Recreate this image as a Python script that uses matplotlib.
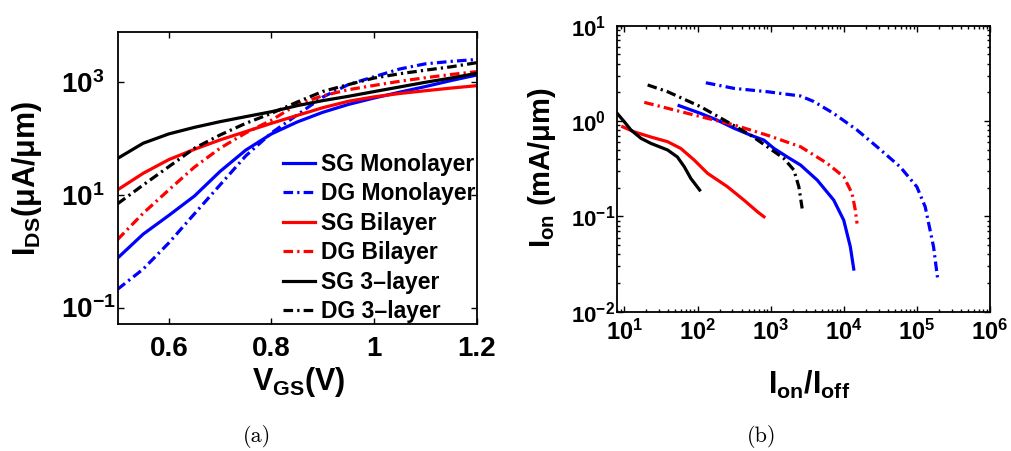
import matplotlib
matplotlib.use('Agg')
import matplotlib.pyplot as plt
from matplotlib.ticker import FixedLocator, LogLocator, NullFormatter

plt.rcParams['font.family'] = ['Liberation Sans', 'DejaVu Sans']
plt.rcParams['font.weight'] = 'bold'
plt.rcParams['mathtext.fontset'] = 'custom'
plt.rcParams['mathtext.rm'] = 'Liberation Sans:bold'
plt.rcParams['mathtext.bf'] = 'Liberation Sans:bold'
plt.rcParams['mathtext.it'] = 'Liberation Sans:bold'
plt.rcParams['mathtext.default'] = 'rm'

# (a) transfer curves
vgs = [0.5, 0.55, 0.6, 0.65, 0.7, 0.75, 0.8, 0.85, 0.9, 0.95, 1.0, 1.05, 1.1, 1.15, 1.2]
sg_mono = [0.75, 2.0, 4.3, 9.5, 26, 62, 120, 195, 290, 400, 520, 660, 830, 1060, 1330]
dg_mono = [0.21, 0.48, 1.4, 4.6, 15, 49, 125, 260, 540, 900, 1240, 1700, 2100, 2320, 2510]
sg_bi = [12.2, 24, 42, 64, 94, 132, 185, 255, 350, 455, 545, 625, 700, 780, 860]
dg_bi = [1.6, 4.7, 12.2, 31, 67, 125, 210, 400, 570, 730, 870, 1030, 1190, 1360, 1525]
sg_3 = [44, 82, 120, 157, 198, 243, 297, 380, 467, 557, 676, 817, 988, 1175, 1426]
dg_3 = [6.9, 14.9, 31.5, 67, 115, 185, 278, 440, 680, 900, 1175, 1400, 1620, 1860, 2200]

# (b) Ion vs Ion/Ioff
r_sg_mono = [56, 111, 187, 316, 533, 811, 1110, 1690, 2570, 4340, 7300, 10000, 12300, 13700]
i_sg_mono = [1.45, 1.2, 1.02, 0.84, 0.71, 0.63, 0.516, 0.42, 0.345, 0.24, 0.148, 0.091, 0.048, 0.028]
r_dg_mono = [130, 316, 900, 2570, 3900, 7300, 15200, 28500, 59000, 100000, 130000, 169000, 192000]
i_dg_mono = [2.52, 2.2, 2.03, 1.83, 1.6, 1.2, 0.805, 0.537, 0.331, 0.204, 0.126, 0.048, 0.0224]
r_sg_bi = [9.5, 13.6, 23, 39, 59, 90, 137, 256, 432, 658, 811]
i_sg_bi = [0.87, 0.77, 0.68, 0.607, 0.516, 0.39, 0.283, 0.205, 0.148, 0.112, 0.099]
r_dg_bi = [18.7, 39, 111, 316, 900, 2570, 5930, 10000, 13000, 14400, 15200]
i_dg_bi = [1.57, 1.36, 1.11, 0.91, 0.71, 0.537, 0.36, 0.26, 0.174, 0.116, 0.084]
r_sg_3 = [8, 10, 12.3, 16.9, 23, 39, 53, 66, 81, 95, 107]
i_sg_3 = [1.2, 0.98, 0.805, 0.658, 0.583, 0.497, 0.42, 0.331, 0.25, 0.213, 0.189]
r_dg_3 = [20.8, 39, 111, 256, 533, 900, 1510, 2080, 2430, 2700]
i_dg_3 = [2.39, 2.03, 1.41, 0.98, 0.71, 0.537, 0.406, 0.306, 0.205, 0.121]

names = ['SG Monolayer', 'DG Monolayer', 'SG Bilayer', 'DG Bilayer', 'SG 3\u2013layer', 'DG 3\u2013layer']
colors = ['#0000ff', '#0000ff', '#ff0000', '#ff0000', '#000000', '#000000']
dd = (0, (3, 1.3, 0.7, 1.3))
styles = ['-', dd, '-', dd, '-', dd]
lw = 2.3

W, H = 1011, 451
fig = plt.figure(figsize=(W / 100, H / 100), dpi=100)
ax1 = fig.add_axes([117.5 / W, (H - 324) / H, (476.7 - 117.5) / W, (324 - 31.7) / H])
ax2 = fig.add_axes([617.3 / W, (H - 311.7) / H, (990 - 617.3) / W, (311.7 - 25.7) / H])

ys_a = [sg_mono, dg_mono, sg_bi, dg_bi, sg_3, dg_3]
for y, name, c, ls in zip(ys_a, names, colors, styles):
    ax1.plot(vgs, y, color=c, linestyle=ls, lw=lw, label=name)

ax1.set_yscale('log')
ax1.set_xlim(0.5, 1.2)
ax1.set_ylim(0.051, 7800)
ax1.set_xticks([0.6, 0.8, 1.0, 1.2], labels=['0.6', '0.8', '1', '1.2'])
ax1.set_yticks([0.1, 10, 1000], labels=[r'$10^{-1}$', r'$10^{1}$', r'$10^{3}$'])
ax1.yaxis.set_minor_locator(FixedLocator([]))
ax1.tick_params(axis='x', labelsize=20, pad=9)
ax1.tick_params(axis='y', labelsize=20, pad=41)
for t in ax1.get_yticklabels():
    t.set_ha('left')

ax1.legend(loc='upper left', bbox_to_anchor=(0.46, 0.585), frameon=False,
           handlelength=1.4, handletextpad=0.25,
           labelspacing=0.28, borderpad=0, borderaxespad=0,
           prop={'weight': 'bold', 'size': 16.5})

rs = [r_sg_mono, r_dg_mono, r_sg_bi, r_dg_bi, r_sg_3, r_dg_3]
ions = [i_sg_mono, i_dg_mono, i_sg_bi, i_dg_bi, i_sg_3, i_dg_3]
for x, y, c, ls in zip(rs, ions, colors, styles):
    ax2.plot(x, y, color=c, linestyle=ls, lw=lw)

ax2.set_xscale('log')
ax2.set_yscale('log')
ax2.set_xlim(8, 1e6)
ax2.set_ylim(1e-2, 10)
ax2.xaxis.set_major_locator(LogLocator(base=10, numticks=10))
ax2.xaxis.set_minor_locator(LogLocator(base=10, subs=range(2, 10), numticks=20))
ax2.yaxis.set_minor_locator(LogLocator(base=10, subs=range(2, 10), numticks=20))
ax2.xaxis.set_minor_formatter(NullFormatter())
ax2.yaxis.set_minor_formatter(NullFormatter())
ax2.tick_params(axis='x', labelsize=17, pad=6)
ax2.tick_params(axis='y', labelsize=16, pad=33)
for t in ax2.get_yticklabels():
    t.set_ha('left')

for ax in (ax1, ax2):
    ax.tick_params(which='both', direction='in', top=True, right=True, width=1)
    ax.tick_params(which='major', length=4)
    ax.tick_params(which='minor', length=2.5)
    for s in ax.spines.values():
        s.set_linewidth(1.3)

fig.text(299 / W, 1 - 382 / H, r'V$_{\rm GS}$(V)', fontsize=22, ha='center', va='center')
fig.text(27 / W, 1 - 178 / H, 'I$_{\\rm DS}$(\u03bcA/\u03bcm)', fontsize=22,
         ha='center', va='center', rotation=90)
fig.text(809 / W, 1 - 385 / H, r'I$_{\rm on}$/I$_{\rm off}$', fontsize=22, ha='center', va='center')
fig.text(542 / W, 1 - 168 / H, 'I$_{\\rm on}$ (mA/\u03bcm)', fontsize=21,
         ha='center', va='center', rotation=90)

fig.text(257 / W, 1 - 437 / H, '(a)', fontname='cmr10', fontweight='normal', fontsize=16,
         ha='center', va='center')
fig.text(762 / W, 1 - 437 / H, '(b)', fontname='cmr10', fontweight='normal', fontsize=16,
         ha='center', va='center')

fig.savefig('out.png', dpi=100)
